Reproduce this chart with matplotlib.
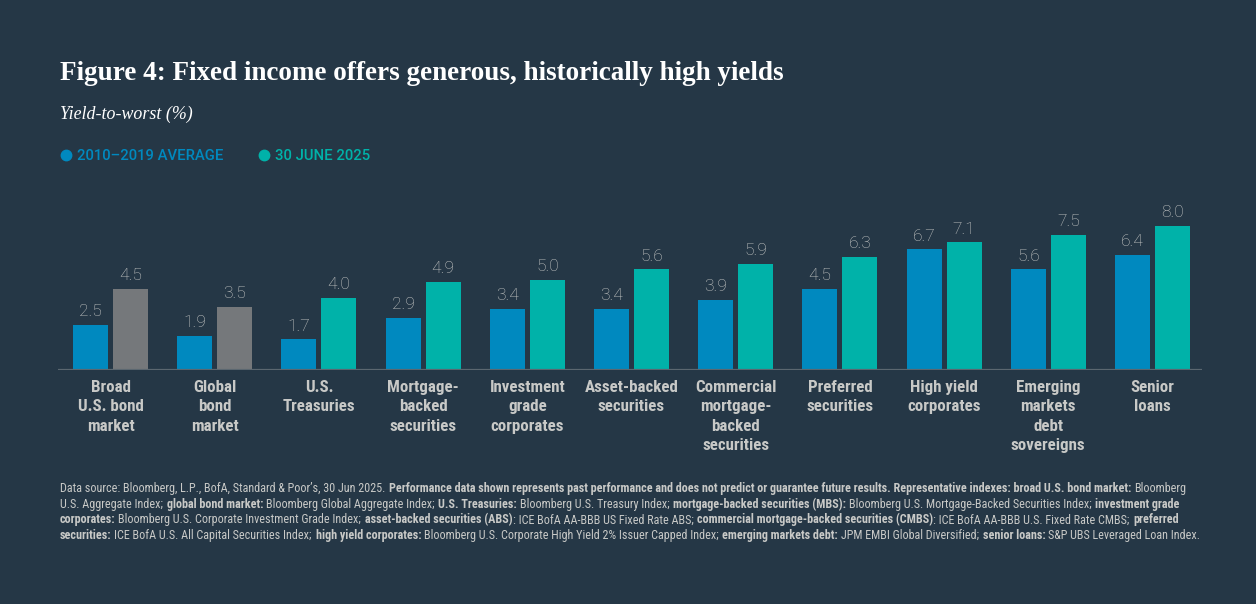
import matplotlib
matplotlib.use('Agg')
import matplotlib.pyplot as plt
from matplotlib import font_manager
from matplotlib.font_manager import FontProperties, findfont
from matplotlib.ft2font import FT2Font
from matplotlib.lines import Line2D

W, H, DPI = 1256, 604, 100

categories = [
    'Broad\nU.S. bond\nmarket',
    'Global\nbond\nmarket',
    'U.S.\nTreasuries',
    'Mortgage-\nbacked\nsecurities',
    'Investment\ngrade\ncorporates',
    'Asset-backed\nsecurities',
    'Commercial\nmortgage-\nbacked\nsecurities',
    'Preferred\nsecurities',
    'High yield\ncorporates',
    'Emerging\nmarkets\ndebt\nsovereigns',
    'Senior\nloans',
]
avg_2010_2019 = [2.5, 1.9, 1.7, 2.9, 3.4, 3.4, 3.9, 4.5, 6.7, 5.6, 6.4]
june_2025 = [4.5, 3.5, 4.0, 4.9, 5.0, 5.6, 5.9, 6.3, 7.1, 7.5, 8.0]
aggregate_index = [True, True, False, False, False, False, False, False, False, False, False]

series_labels = ['2010\u20132019 AVERAGE', '30 JUNE 2025']

footer_lines = [
    [('Data source: Bloomberg, L.P., BofA, Standard & Poor\u2019s, 30 Jun 2025. ', False),
     ('Performance data shown represents past performance and does not predict or guarantee future results. '
      'Representative indexes: broad U.S. bond market:', True),
     (' Bloomberg', False)],
    [('U.S. Aggregate Index; ', False), ('global bond market:', True),
     (' Bloomberg Global Aggregate Index; ', False), ('U.S. Treasuries:', True),
     (' Bloomberg U.S. Treasury Index; ', False), ('mortgage-backed securities (MBS):', True),
     (' Bloomberg U.S. Mortgage-Backed Securities Index; ', False), ('investment grade', True)],
    [('corporates:', True), (' Bloomberg U.S. Corporate Investment Grade Index; ', False),
     ('asset-backed securities (ABS)', True), (': ICE BofA AA-BBB US Fixed Rate ABS; ', False),
     ('commercial mortgage-backed securities (CMBS)', True),
     (': ICE BofA AA-BBB U.S. Fixed Rate CMBS; ', False), ('preferred', True)],
    [('securities:', True), (' ICE BofA U.S. All Capital Securities Index; ', False),
     ('high yield corporates:', True),
     (' Bloomberg U.S. Corporate High Yield 2% Issuer Capped Index; ', False),
     ('emerging markets debt:', True), (' JPM EMBI Global Diversified; ', False),
     ('senior loans:', True), (' S&P UBS Leveraged Loan Index.', False)],
]

BG = '#253746'
BLUE = '#0089bf'
TEAL = '#00b2a9'
GRAY_BAR = '#75787b'
TEXT_LIGHT = '#c8c9c7'
AXIS_LINE = '#5b6770'


def pick_family(options):
    names = {f.name for f in font_manager.fontManager.ttflist}
    for name in options:
        if name in names:
            return name
    return 'DejaVu Sans'


NARROW = pick_family(['Roboto Condensed', 'Liberation Sans Narrow', 'DejaVu Sans Condensed', 'Liberation Sans'])
SERIF = pick_family(['Liberation Serif', 'DejaVu Serif'])
LIGHT = pick_family(['Roboto', 'Lato', 'Open Sans'])

_ft_cache = {}


def glyph(char, bold, size):
    key = (bold, size)
    if key not in _ft_cache:
        path = findfont(FontProperties(family=NARROW, weight='bold' if bold else 'normal'))
        font = FT2Font(path, hinting_factor=1)
        font.set_size(size, DPI)
        _ft_cache[key] = font
    return _ft_cache[key].load_char(ord(char))


def left_bearing(char, bold, size):
    return glyph(char, bold, size).horiBearingX / 64


def space_width(bold, size):
    return glyph(' ', bold, size).linearHoriAdvance / 65536


def fx(x):
    return x / W


def fy(y):
    return 1 - y / H


def draw_runs(fig, renderer, x0, y, runs, size, color):
    # chain each run from the drawn edge of the previous one
    prev = None
    for text, bold in runs:
        body = text.strip(' ')
        lead = len(text) - len(text.lstrip(' '))
        trail = len(text) - len(text.rstrip(' '))
        if prev is None:
            ink_x = x0
        else:
            p_bold, p_trail, p_right = prev
            ink_x = (p_right + p_trail * space_width(p_bold, size)
                     + lead * space_width(bold, size) + left_bearing(body[0], bold, size))
        t = fig.text(fx(ink_x), fy(y), body, color=color, va='baseline', ha='left', fontsize=size,
                     family=NARROW, fontweight='bold' if bold else 'normal')
        prev = (bold, trail, t.get_window_extent(renderer).x1)


fig = plt.figure(figsize=(W / DPI, H / DPI), dpi=DPI, facecolor=BG)
renderer = fig.canvas.get_renderer()

# plot area: baseline at y=370px, 18px per percentage point
ax = fig.add_axes([fx(58), fy(370), (1202 - 58) / W, 162 / H])
ax.set_facecolor(BG)
ax.set_xlim(-0.504, 10.475)
ax.set_ylim(0, 9)
for spine in ax.spines.values():
    spine.set_visible(False)
ax.set_xticks([])
ax.set_yticks([])
ax.axhline(0, color=AXIS_LINE, lw=1.6, zorder=3)

offset = 0.192
width = 0.336
xs = list(range(len(categories)))
second_colors = [GRAY_BAR if agg else TEAL for agg in aggregate_index]
ax.bar([x - offset for x in xs], avg_2010_2019, width=width, color=BLUE, zorder=2)
ax.bar([x + offset for x in xs], june_2025, width=width, color=second_colors, zorder=2)

for x, v in zip(xs, avg_2010_2019):
    ax.annotate(f'{v:.1f}', (x - offset, v), xytext=(0, 4), textcoords='offset points',
                ha='center', va='bottom', fontsize=12.5, family=LIGHT, fontweight='light', color=TEXT_LIGHT)
for x, v in zip(xs, june_2025):
    ax.annotate(f'{v:.1f}', (x + offset, v), xytext=(0, 4), textcoords='offset points',
                ha='center', va='bottom', fontsize=12.5, family=LIGHT, fontweight='light', color=TEXT_LIGHT)

for x, label in zip(xs, categories):
    ax.annotate(label, (x, 0), xytext=(0, -7.5), textcoords='offset points', ha='center', va='top',
                multialignment='center', fontsize=12.2, family=NARROW, fontweight='bold',
                color=TEXT_LIGHT, linespacing=1.34, annotation_clip=False)

# header
fig.text(fx(60), fy(80), 'Figure 4: Fixed income offers generous, historically high yields',
         fontsize=19.5, family=SERIF, fontweight='bold', color='white', va='baseline')
fig.text(fx(60), fy(119), 'Yield-to-worst (%)', fontsize=12.9, family=SERIF, style='italic',
         color='white', va='baseline')

# legend
legend_x = [66, 264]
for lx, label, color in zip(legend_x, series_labels, [BLUE, TEAL]):
    fig.add_artist(Line2D([fx(lx)], [fy(155)], marker='o', markersize=7.5, color=color,
                          transform=fig.transFigure))
    fig.text(fx(lx + 11), fy(160.5), label, fontsize=10.7, family=LIGHT, fontweight='medium',
             color=color, va='baseline')

# footer
for i, runs in enumerate(footer_lines):
    draw_runs(fig, renderer, 60, 492 + i * 15.7, runs, 8.75, TEXT_LIGHT)

fig.savefig('out.png', dpi=DPI, facecolor=BG)
